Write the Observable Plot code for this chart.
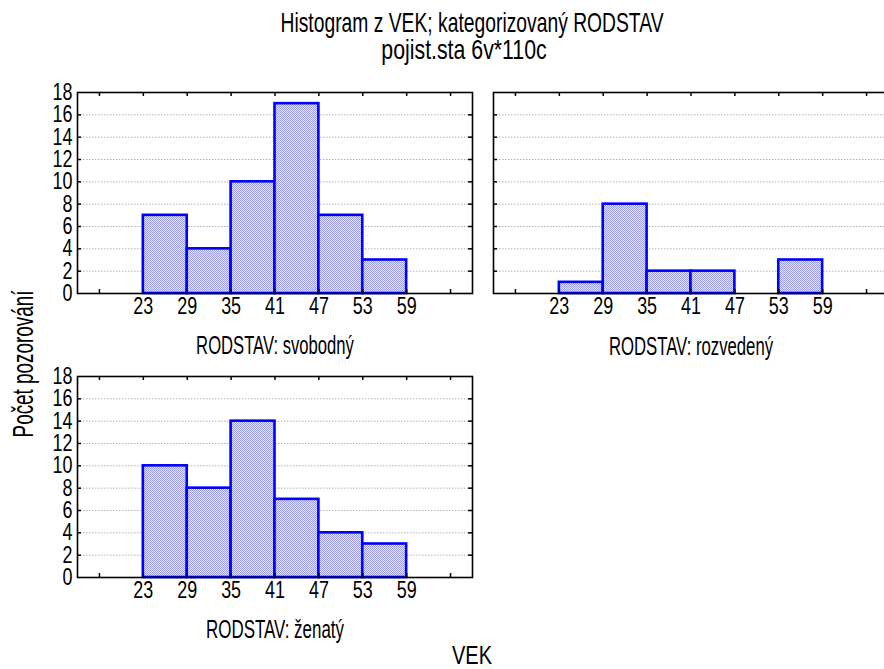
<!DOCTYPE html>
<html>
<head>
<meta charset="utf-8">
<script src="https://cdn.jsdelivr.net/npm/d3@7"></script>
<script src="https://cdn.jsdelivr.net/npm/@observablehq/plot@0.6"></script>
<style>
  body { margin: 0; background: white; }
  #chart { position: relative; width: 884px; height: 669px; overflow: hidden; background: white; }
  #chart svg.panel { position: absolute; max-width: none; }
  .lbl { position: absolute; white-space: nowrap; color: #000; font-family: "Liberation Sans", Arial, sans-serif; transform-origin: 50% 50%; }
</style>
</head>
<body>
<div id="chart"></div>
<script>
// ---- data ----
const binEdges = [23, 29, 35, 41, 47, 53, 59];
const svobodny = [7, 4, 10, 17, 7, 3];
const rozvedeny = [1, 8, 2, 2, 0, 3];
const zenaty = [10, 8, 14, 7, 4, 3];
const xTickLabels = [23, 29, 35, 41, 47, 53, 59];
const xMinorTicks = [17, 23, 29, 35, 41, 47, 53, 59, 65];
const yTickLabels = [0, 2, 4, 6, 8, 10, 12, 14, 16, 18];
const gridValues = [2, 4, 6, 8, 10, 12, 14, 16];
const xDomain = [14, 68];
const yDomain = [0, 18];

const titleText = "Histogram z VEK; kategorizovaný RODSTAV";
const subtitleText = "pojist.sta 6v*110c";
const panelLabels = ["RODSTAV: svobodný", "RODSTAV: rozvedený", "RODSTAV: ženatý"];
const xTitle = "VEK";
const yTitle = "Počet pozorování";

const FONT = "'Liberation Sans', Arial, sans-serif";
const chart = document.getElementById("chart");
const SVGNS = "http://www.w3.org/2000/svg";

// ---- layout ----
const innerW = 395, innerH = 201, tickLen = 4;
const mTop = 22, mBottom = 40, mRight = 8;

function squeezeTexts(svg, s) {
  svg.querySelectorAll("text").forEach(t => {
    const x = parseFloat(t.getAttribute("x")) || 0;
    const y = parseFloat(t.getAttribute("y")) || 0;
    const tr = t.getAttribute("transform") || "";
    t.setAttribute("transform", `${tr} translate(${x},${y}) scale(${s},1) translate(${-x},${-y})`);
  });
}

function addPattern(svg, id) {
  const defs = document.createElementNS(SVGNS, "defs");
  const p = document.createElementNS(SVGNS, "pattern");
  p.setAttribute("id", id);
  p.setAttribute("width", 2); p.setAttribute("height", 2);
  p.setAttribute("patternUnits", "userSpaceOnUse");
  [[0, 0, 2, 2, "#e4e4ff"], [0, 0, 1, 1, "#9e9ef3"], [1, 1, 1, 1, "#9e9ef3"]].forEach(([x, y, w, h, c]) => {
    const r = document.createElementNS(SVGNS, "rect");
    r.setAttribute("x", x); r.setAttribute("y", y);
    r.setAttribute("width", w); r.setAttribute("height", h);
    r.setAttribute("fill", c);
    p.appendChild(r);
  });
  defs.appendChild(p);
  svg.insertBefore(defs, svg.firstChild);
}

let panelIndex = 0;
function panel(values, showY, left, top) {
  const pid = "hatch" + (panelIndex++);
  const bins = binEdges.slice(0, -1)
    .map((x1, i) => ({x1, x2: binEdges[i + 1], count: values[i]}))
    .filter(d => d.count > 0);
  const mLeft = 77;
  const svg = Plot.plot({
    width: mLeft + innerW + mRight,
    height: mTop + innerH + mBottom,
    marginLeft: mLeft, marginRight: mRight, marginTop: mTop, marginBottom: mBottom,
    style: {fontFamily: FONT, fontSize: "23px", background: "transparent", color: "black", overflow: "visible"},
    x: {domain: xDomain, ticks: xTickLabels, tickSize: 0, tickPadding: 4, label: null, tickFormat: d => String(d)},
    y: showY
      ? {domain: yDomain, ticks: yTickLabels, tickSize: 0, tickPadding: 5, label: null, tickFormat: d => String(d)}
      : {domain: yDomain, axis: null},
    marks: [
      Plot.ruleY(gridValues, {stroke: "#b0b0b0", strokeWidth: 1, strokeDasharray: "1.5,1.5"}),
      Plot.rect(bins, {x1: "x1", x2: "x2", y1: () => 0, y2: "count", fill: `url(#${pid})`, stroke: "#0000ff", strokeWidth: 2.6}),
      Plot.ruleX(xMinorTicks, {insetBottom: innerH - tickLen, stroke: "black", strokeWidth: 1.5}),
      Plot.ruleX(xMinorTicks, {insetTop: innerH - tickLen, stroke: "black", strokeWidth: 1.5}),
      Plot.ruleY(gridValues, {insetRight: innerW - tickLen, stroke: "black", strokeWidth: 1.5}),
      Plot.ruleY(gridValues, {insetLeft: innerW - tickLen, stroke: "black", strokeWidth: 1.5}),
      Plot.frame({stroke: "black", strokeWidth: 1.6})
    ]
  });
  addPattern(svg, pid);
  svg.classList.add("panel");
  svg.style.left = (left - mLeft) + "px";
  svg.style.top = (top - mTop) + "px";
  chart.appendChild(svg);
  squeezeTexts(svg, 0.78);
}

// frame top-left corners
panel(svobodny, true, 77, 92);
panel(rozvedeny, false, 493, 92);
panel(zenaty, true, 77, 376);

// ---- texts (squeezed to match the reference) ----
function label(text, {cx, baseline, cy, size, width, rotate = false}) {
  const d = document.createElement("div");
  d.className = "lbl";
  d.textContent = text;
  d.style.fontSize = size + "px";
  d.style.lineHeight = size + "px";
  chart.appendChild(d);
  const w = d.offsetWidth;
  const s = width / w;
  d.style.left = cx + "px";
  if (rotate) {
    d.style.top = cy + "px";
    d.style.transform = `translate(-50%,-50%) rotate(-90deg) scaleX(${s})`;
  } else {
    d.style.top = (baseline - 0.8465 * size) + "px";
    d.style.transform = `translateX(-50%) scaleX(${s})`;
  }
}

label(titleText, {cx: 471.5, baseline: 33, size: 28, width: 383});
label(subtitleText, {cx: 464, baseline: 60, size: 28, width: 165});
label(panelLabels[0], {cx: 274.5, baseline: 354, size: 26, width: 158});
label(panelLabels[1], {cx: 690.5, baseline: 355, size: 26, width: 164});
label(panelLabels[2], {cx: 274.5, baseline: 638, size: 26, width: 138});
label(xTitle, {cx: 472, baseline: 664, size: 26, width: 40});
label(yTitle, {cx: 22.8, cy: 363.5, size: 29, width: 147, rotate: true});
</script>
</body>
</html>
